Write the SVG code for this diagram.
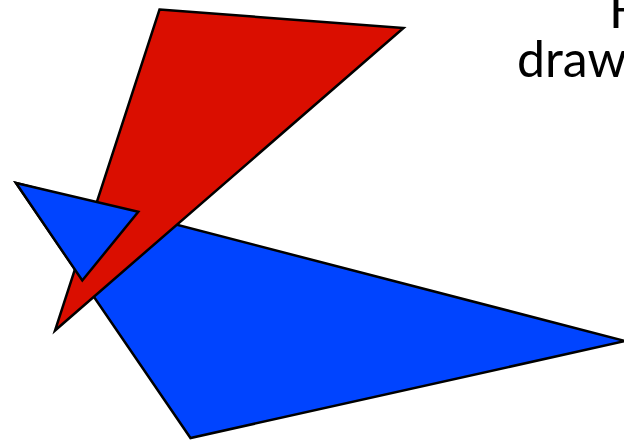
<svg xmlns="http://www.w3.org/2000/svg" width="624" height="443" viewBox="0 0 624 443">
<style>
.s{stroke:#000;stroke-width:2.5;stroke-linejoin:miter}
.b{fill:#0044FF}
.r{fill:#DA0E00}
.t{font-family:Lato,"Open Sans",sans-serif;font-size:50px;fill:#000}
</style>
<rect width="624" height="443" fill="#fff"/>
<g id="blue-large"><polygon class="b s" points="16,183 625,341 190.5,438"/></g>
<g id="red"><polygon class="r s" points="159.5,9.5 403.5,28 55,330.5"/></g>
<g id="blue-small"><polygon class="b s" points="16,183 138.3,211.7 82.3,280.5"/></g>
<text class="t" x="609" y="28">H</text>
<text class="t" x="517" y="77">draw</text>
</svg>
